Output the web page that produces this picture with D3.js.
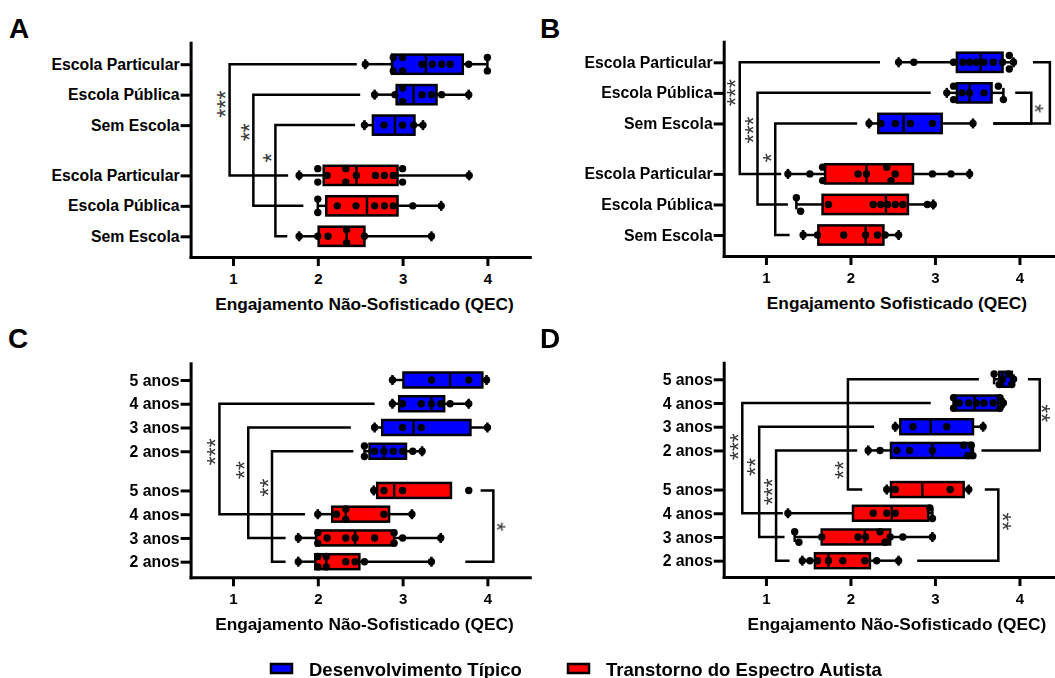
<!DOCTYPE html>
<html>
<head>
<meta charset="utf-8">
<script src="https://cdn.jsdelivr.net/npm/d3@7"></script>
<style>
  body { margin: 0; background: #fff; }
  svg { display: block; font-family: Arial, "Liberation Sans", sans-serif; }
</style>
</head>
<body>
<script>
// ---- data ----
// stats per row: [min, q1, median, q3, max]
const groupColor = { TD: "#0000ff", TEA: "#ff0000" };

const labelsA = ["Escola Particular", "Escola Pública", "Sem Escola", "Escola Particular", "Escola Pública", "Sem Escola"];
const groupsA = ["TD", "TD", "TD", "TEA", "TEA", "TEA"];
const statsA = [
    [2.56, 2.875, 3.275, 3.71, 4.0],
    [2.67, 2.93, 3.13, 3.40, 3.78],
    [2.55, 2.65, 2.91, 3.14, 3.24],
    [1.78, 2.07, 2.455, 2.94, 3.785],
    [2.0, 2.10, 2.58, 2.94, 3.455],
    [1.78, 2.01, 2.34, 2.55, 3.34]
];
const pointsA = [
    [2.56, 2.89, 2.89, 3.0, 3.0, 3.23, 3.35, 3.46, 3.56, 3.78, 4.0, 4.0],
    [2.67, 2.91, 3.0, 3.0, 3.23, 3.34, 3.46, 3.78],
    [2.55, 2.78, 3.0, 3.13, 3.24],
    [1.78, 2.0, 2.0, 2.11, 2.33, 2.33, 2.455, 2.68, 2.785, 2.89, 3.0, 3.0, 3.785],
    [2.0, 2.0, 2.23, 2.45, 2.67, 2.785, 2.89, 3.12, 3.455],
    [1.78, 2.0, 2.12, 2.34, 2.34, 2.55, 3.34]
];
// brackets: rows a/b, vertical at x, line ends ea/eb, label and its row position
const bracketsA = [
    { a: 0, b: 3, x: 0.96, ea: 2.46, eb: 1.65, text: "***", pos: 1.31 },
    { a: 1, b: 4, x: 1.24, ea: 2.50, eb: 1.83, text: "**", pos: 2.23 },
    { a: 2, b: 5, x: 1.50, ea: 2.44, eb: 1.64, text: "*", pos: 3.07 }
];

const labelsB = labelsA;
const groupsB = groupsA;
const statsB = [
    [2.57, 3.26, 3.54, 3.80, 3.93],
    [3.14, 3.26, 3.41, 3.67, 3.81],
    [2.22, 2.33, 2.63, 3.08, 3.45],
    [1.26, 1.70, 2.19, 2.74, 3.41],
    [1.36, 1.67, 2.42, 2.68, 2.98],
    [1.44, 1.62, 2.18, 2.39, 2.57]
];
const pointsB = [
    [2.57, 2.75, 3.22, 3.33, 3.41, 3.49, 3.58, 3.69, 3.80, 3.88, 3.88, 3.93],
    [3.14, 3.22, 3.22, 3.32, 3.41, 3.58, 3.75, 3.81],
    [2.22, 2.36, 2.53, 2.71, 2.97, 3.45],
    [1.26, 1.52, 1.67, 1.67, 2.09, 2.19, 2.43, 2.48, 2.53, 2.97, 3.19, 3.41],
    [1.36, 1.41, 1.74, 2.27, 2.36, 2.44, 2.53, 2.62, 2.91, 2.98],
    [1.44, 1.61, 1.92, 2.18, 2.32, 2.41, 2.57]
];
const bracketsB = [
    { a: 0, b: 3, x: 0.69, ea: 2.35, eb: 1.18, text: "***", pos: 0.99 },
    { a: 1, b: 4, x: 0.90, ea: 2.95, eb: 1.26, text: "***", pos: 2.21 },
    { a: 2, b: 5, x: 1.11, ea: 2.08, eb: 1.28, text: "*", pos: 3.12 },
    { a: 0, b: 2, x: 4.36, ea: 4.16, eb: 3.69, text: "", pos: 1 },
    { a: 1, b: 2, x: 4.14, ea: 3.95, eb: 3.69, text: "*", pos: 1.51 }
];

const labelsC = ["5 anos", "4 anos", "3 anos", "2 anos", "5 anos", "4 anos", "3 anos", "2 anos"];
const groupsC = ["TD", "TD", "TD", "TD", "TEA", "TEA", "TEA", "TEA"];
const statsC = [
    [2.88, 3.01, 3.56, 3.94, 3.99],
    [2.88, 2.96, 3.34, 3.49, 3.78],
    [2.67, 2.76, 3.13, 3.80, 4.0],
    [2.55, 2.61, 2.78, 3.04, 3.23],
    [2.66, 2.70, 2.90, 3.57, 3.57],
    [2.0, 2.17, 2.33, 2.84, 3.11],
    [1.77, 1.98, 2.44, 2.90, 3.45],
    [1.77, 1.97, 2.10, 2.49, 3.34]
];
const pointsC = [
    [2.88, 3.34, 3.78, 3.99],
    [2.88, 3.0, 3.22, 3.34, 3.45, 3.56, 3.78],
    [2.67, 3.0, 3.22, 4.0],
    [2.55, 2.55, 2.67, 2.78, 2.89, 3.0, 3.12, 3.23],
    [2.66, 2.78, 3.0, 3.78],
    [2.0, 2.22, 2.33, 2.33, 2.78, 3.11],
    [1.77, 2.0, 2.0, 2.11, 2.33, 2.44, 2.67, 2.90, 2.90, 3.0, 3.45],
    [1.77, 2.0, 2.0, 2.10, 2.10, 2.33, 2.44, 2.55, 3.34]
];
const bracketsC = [
    { a: 1, b: 5, x: 0.84, ea: 2.67, eb: 1.85, text: "***", pos: 3.02 },
    { a: 2, b: 6, x: 1.18, ea: 2.39, eb: 1.62, text: "**", pos: 3.79 },
    { a: 3, b: 7, x: 1.46, ea: 2.42, eb: 1.62, text: "**", pos: 4.53 },
    { a: 4, b: 7, x: 4.07, ea: 3.92, eb: 3.74, text: "*", pos: 6.18 }
];

const labelsD = labelsC;
const groupsD = groupsC;
const statsD = [
    [3.70, 3.76, 3.80, 3.91, 3.93],
    [3.22, 3.24, 3.47, 3.75, 3.81],
    [2.53, 2.59, 2.95, 3.45, 3.57],
    [2.21, 2.48, 2.97, 3.43, 3.45],
    [2.43, 2.48, 2.85, 3.34, 3.40],
    [1.26, 2.03, 2.49, 2.92, 2.97],
    [1.34, 1.66, 2.17, 2.47, 2.97],
    [1.43, 1.58, 1.74, 2.23, 2.57]
];
const pointsD = [
    [3.70, 3.76, 3.80, 3.87, 3.91, 3.93],
    [3.22, 3.22, 3.29, 3.40, 3.49, 3.58, 3.69, 3.77, 3.77, 3.81],
    [2.53, 2.74, 3.14, 3.57],
    [2.21, 2.35, 2.55, 2.70, 2.97, 3.34, 3.39, 3.43, 3.45],
    [2.43, 2.53, 3.18, 3.40],
    [1.26, 2.27, 2.43, 2.53, 2.94, 2.97],
    [1.34, 1.39, 1.66, 2.09, 2.18, 2.35, 2.41, 2.47, 2.62, 2.97],
    [1.43, 1.52, 1.61, 1.74, 1.91, 2.17, 2.31, 2.57]
];
const bracketsD = [
    { a: 1, b: 5, x: 0.72, ea: 2.95, eb: 1.20, text: "***", pos: 2.84 },
    { a: 2, b: 6, x: 0.92, ea: 2.28, eb: 1.22, text: "**", pos: 3.69 },
    { a: 3, b: 7, x: 1.12, ea: 2.08, eb: 1.28, text: "***", pos: 4.74 },
    { a: 0, b: 4, x: 1.97, ea: 3.52, eb: 2.14, text: "**", pos: 3.83 },
    { a: 0, b: 3, x: 4.24, ea: 4.10, eb: 3.55, text: "**", pos: 1.43 },
    { a: 4, b: 7, x: 3.75, ea: 3.59, eb: 2.79, text: "**", pos: 6.0 }
];

const xTicks = [1, 2, 3, 4];
const legendNames = ["Desenvolvimento Típico", "Transtorno do Espectro Autista"];
const legendGroups = ["TD", "TEA"];

// ---- drawing ----
const W = 1055, H = 678;
const svg = d3.select("body").append("svg")
    .attr("width", W)
    .attr("height", H);

function drawPanel(p) {
    const g = svg.append("g");

    // x scale shared look: 0.5 .. 4.5
    const x = d3.scaleLinear().domain([0.5, 4.5]).range([p.x0, p.x0 + 4 * p.unit]);

    // rows: blue rows first, red rows after a gap
    const nBlue = p.groups.filter(d => d === "TD").length;
    const slots = p.groups.map((d, i) => i < nBlue ? i : i + 0.65);
    const y = d3.scaleLinear()
        .domain([(p.top - p.slot0) / p.slotH, (p.bottom - p.slot0) / p.slotH])
        .range([p.top, p.bottom]);

    const bh = p.slotH * 0.63;
    const off = bh * 0.35;

    // panel letter
    g.append("text")
        .attr("x", p.lx).attr("y", p.ly)
        .attr("font-size", 28).attr("font-weight", "bold")
        .text(p.letter);

    // brackets (behind the boxes)
    const stars = g.append("g").attr("opacity", 0.99);
    p.brackets.forEach(b => {
        const ya = y(slots[b.a]), yb = y(slots[b.b]);
        g.append("path")
            .attr("d", `M${x(b.ea)},${ya}H${x(b.x)}V${yb}H${x(b.eb)}`)
            .attr("fill", "none")
            .attr("stroke", "#000")
            .attr("stroke-width", 2.5);
        if (b.text) {
            // label on the open side's opposite; right-hand labels turn the other way
            const right = b.x > b.ea;
            const lx = Math.min(x(b.x) + (right ? 9 : -9), W - 8);
            stars.append("text")
                .attr("transform", `translate(${lx},${y(b.pos)}) rotate(${right ? 90 : -90})`)
                .attr("text-anchor", "middle")
                .attr("dy", "0.59em")
                .attr("font-size", 23)
                .attr("fill", "#333")
                .text(b.text);
        }
    });

    // boxes
    p.stats.forEach((s, i) => {
        const yc = y(slots[i]);
        const [mn, q1, md, q3, mx] = s;
        const row = g.append("g");
        row.append("line")
            .attr("x1", x(mn)).attr("x2", x(q1)).attr("y1", yc).attr("y2", yc)
            .attr("stroke", "#000").attr("stroke-width", 2.5);
        row.append("line")
            .attr("x1", x(q3)).attr("x2", x(mx)).attr("y1", yc).attr("y2", yc)
            .attr("stroke", "#000").attr("stroke-width", 2.5);
        [[mn, q1], [mx, q3]].forEach(([v, edge]) => {
            if (v === edge) return;
            row.append("line")
                .attr("x1", x(v)).attr("x2", x(v)).attr("y1", yc - 5).attr("y2", yc + 5)
                .attr("stroke", "#000").attr("stroke-width", 2.5);
        });
        row.append("rect")
            .attr("x", x(q1)).attr("y", yc - bh / 2)
            .attr("width", x(q3) - x(q1)).attr("height", bh)
            .attr("fill", groupColor[p.groups[i]])
            .attr("stroke", "#000").attr("stroke-width", 2.5);
        row.append("line")
            .attr("x1", x(md)).attr("x2", x(md)).attr("y1", yc - bh / 2).attr("y2", yc + bh / 2)
            .attr("stroke", "#000").attr("stroke-width", 2.5);

        // dots: points closer than ~5px are stacked above / below the line
        const pts = p.points[i].slice().sort((a, b) => a - b);
        const clusters = [];
        pts.forEach(v => {
            const last = clusters[clusters.length - 1];
            if (last && x(v) - x(last[last.length - 1]) < 5.5) last.push(v);
            else clusters.push([v]);
        });
        clusters.forEach(c => {
            let offs;
            if (c.length === 1) offs = [0];
            else if (c.length === 2) offs = [-off, off];
            else if (c.length === 3) offs = [-off, off, 0];
            else offs = c.map((d, k) => k % 2 ? off : -off);
            c.forEach((v, k) => {
                row.append("circle")
                    .attr("cx", x(v)).attr("cy", yc + offs[k])
                    .attr("r", 3.7).attr("fill", "#000");
            });
        });
    });

    // axes
    const yAxis = d3.axisLeft(y)
        .tickValues(slots)
        .tickFormat((d, i) => p.labels[i])
        .tickSize(10).tickPadding(1).tickSizeOuter(0);
    const gy = g.append("g").attr("transform", `translate(${p.x0},0)`).call(yAxis);

    const xAxis = d3.axisBottom(x)
        .tickValues(xTicks)
        .tickFormat(d3.format("d"))
        .tickSize(9).tickPadding(7).tickSizeOuter(0);
    const gx = g.append("g").attr("transform", `translate(0,${p.bottom})`).call(xAxis);

    [gy, gx].forEach(a => {
        a.select(".domain").attr("stroke-width", 3).attr("stroke-linecap", "square");
        a.selectAll(".tick line").attr("stroke-width", 3);
        a.selectAll(".tick text")
            .attr("fill", "#000")
            .attr("font-weight", "bold")
            .attr("font-family", "Arial, 'Liberation Sans', sans-serif");
    });
    gy.selectAll(".tick text").attr("font-size", 15.8);
    gx.selectAll(".tick text").attr("font-size", 15);

    // axis title
    g.append("text")
        .attr("x", x(2.55)).attr("y", p.bottom + 53)
        .attr("text-anchor", "middle")
        .attr("font-size", 17.3).attr("font-weight", "bold")
        .text(p.title);
}

drawPanel({
    letter: "A", lx: 9, ly: 38, x0: 190.6, unit: 84.8, top: 42.7, bottom: 257, slot0: 64.2, slotH: 30.46,
    labels: labelsA, groups: groupsA, stats: statsA, points: pointsA, brackets: bracketsA,
    title: "Engajamento Não-Sofisticado (QEC)"
});
drawPanel({
    letter: "B", lx: 540, ly: 38, x0: 723.7, unit: 84.5, top: 41.7, bottom: 256, slot0: 62.3, slotH: 30.57,
    labels: labelsB, groups: groupsB, stats: statsB, points: pointsB, brackets: bracketsB,
    title: "Engajamento Sofisticado (QEC)"
});
drawPanel({
    letter: "C", lx: 8, ly: 348, x0: 190.6, unit: 84.8, top: 363.3, bottom: 577.3, slot0: 380, slotH: 23.75,
    labels: labelsC, groups: groupsC, stats: statsC, points: pointsC, brackets: bracketsC,
    title: "Engajamento Não-Sofisticado (QEC)"
});
drawPanel({
    letter: "D", lx: 540, ly: 348, x0: 723.7, unit: 84.5, top: 362.7, bottom: 577, slot0: 379.3, slotH: 23.71,
    labels: labelsD, groups: groupsD, stats: statsD, points: pointsD, brackets: bracketsD,
    title: "Engajamento Não-Sofisticado (QEC)"
});

// legend
const legendX = [271, 568];
const legend = svg.append("g");
legendNames.forEach((name, i) => {
    legend.append("rect")
        .attr("x", legendX[i]).attr("y", 664)
        .attr("width", 21).attr("height", 9)
        .attr("fill", groupColor[legendGroups[i]])
        .attr("stroke", "#000").attr("stroke-width", 2.5);
    legend.append("text")
        .attr("x", legendX[i] + 38).attr("y", 675.5)
        .attr("font-size", 18.5).attr("font-weight", "bold")
        .text(name);
});
</script>
</body>
</html>
